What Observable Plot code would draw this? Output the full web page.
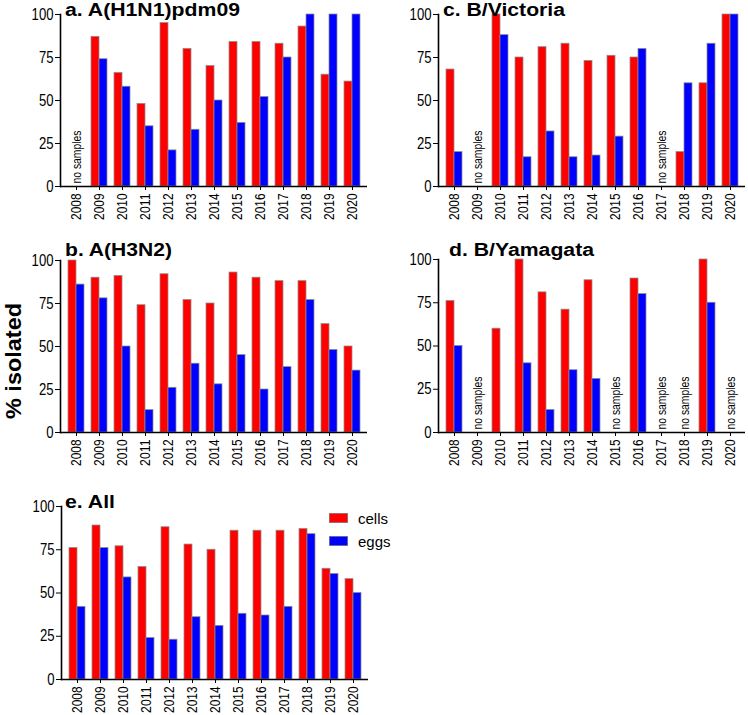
<!DOCTYPE html>
<html>
<head>
<meta charset="utf-8">
<script src="https://cdn.jsdelivr.net/npm/d3@7"></script>
<script src="https://cdn.jsdelivr.net/npm/@observablehq/plot@0.6"></script>
<style>
  body { margin: 0; background: #fff; }
  #root { position: relative; width: 748px; height: 715px; font-family: "Liberation Sans", Arial, sans-serif; color: #000; overflow: hidden; }
  .panel { position: absolute; }
  .lg { position: absolute; font-size: 15px; line-height: 1; white-space: nowrap; }
  .sw { position: absolute; width: 19px; height: 10px; box-shadow: inset 0 0 0 0.7px #8c8c8c; }
  #overlay { position: absolute; left: 0; top: 0; pointer-events: none; }
</style>
</head>
<body>
<div id="root"></div>
<script>
// ---- data ----
const years = [2008, 2009, 2010, 2011, 2012, 2013, 2014, 2015, 2016, 2017, 2018, 2019, 2020];
const yTicks = [0, 25, 50, 75, 100];
const seriesNames = ["cells", "eggs"];
const seriesColors = ["#ff0000", "#0000ff"];

const h1n1Cells = [null, 87, 66, 48, 95, 80, 70, 84, 84, 83, 93, 65, 61];
const h1n1Eggs  = [null, 74, 58, 35, 21, 33, 50, 37, 52, 75, 100, 100, 100];
const h1n1NoSamples = [2008];

const h3n2Cells = [100, 90, 91, 74, 92, 77, 75, 93, 90, 88, 88, 63, 50];
const h3n2Eggs  = [86, 78, 50, 13, 26, 40, 28, 45, 25, 38, 77, 48, 36];
const h3n2NoSamples = [];

const vicCells = [68, null, 100, 75, 81, 83, 73, 76, 75, null, 20, 60, 100];
const vicEggs  = [20, null, 88, 17, 32, 17, 18, 29, 80, null, 60, 83, 100];
const vicNoSamples = [2009, 2017];

const yamCells = [76, null, 60, 100, 81, 71, 88, null, 89, null, null, 100, null];
const yamEggs  = [50, null, null, 40, 13, 36, 31, null, 80, null, null, 75, null];
const yamNoSamples = [2009, 2015, 2017, 2018, 2020];

const allCells = [76, 89, 77, 65, 88, 78, 75, 86, 86, 86, 87, 64, 58];
const allEggs  = [42, 76, 59, 24, 23, 36, 31, 38, 37, 42, 84, 61, 50];
const allNoSamples = [];

const titles = ["a. A(H1N1)pdm09", "b. A(H3N2)", "c. B/Victoria", "d. B/Yamagata", "e. All"];
const yLabel = "% isolated";
const noSampleText = "no samples";

// ---- drawing ----
const root = document.getElementById("root");
const NARROW = 0.456; // digit advance of a narrow sans, per em

function condense(nodes, fontSize, perChar) {
  nodes.forEach(t => {
    const s = t.textContent;
    t.setAttribute("textLength", (s.length * perChar * fontSize).toFixed(2));
    t.setAttribute("lengthAdjust", "spacingAndGlyphs");
  });
}

function makePanel(cells, eggs, none, left, top, frameH) {
  const rows = years.map((year, i) => ({year, cells: cells[i], eggs: eggs[i]}));
  const chart = Plot.plot({
    width: 370,
    height: 10 + frameH + 40,
    marginLeft: 60,
    marginRight: 3,
    marginTop: 10,
    marginBottom: 40,
    style: {fontFamily: '"Liberation Sans", Arial, sans-serif', fontSize: "15px", color: "#000", background: "transparent", overflow: "visible"},
    x: {type: "band", domain: years, paddingInner: 0.32, paddingOuter: 0.18, label: null},
    y: {domain: [0, 100], label: null},
    marks: [
      Plot.barY(rows, {x: "year", y: seriesNames[0], fill: seriesColors[0], stroke: "#8c8c8c", strokeWidth: 0.75, insetRight: 8}),
      Plot.barY(rows, {x: "year", y: seriesNames[1], fill: seriesColors[1], stroke: "#8c8c8c", strokeWidth: 0.75, insetLeft: 8}),
      Plot.text(none, {x: d => d, frameAnchor: "bottom", rotate: -90, textAnchor: "start", lineAnchor: "middle", dy: -3, text: () => noSampleText, fontSize: 12.5, fill: "#000"}),
      Plot.axisY({ticks: yTicks, tickSize: 5, tickPadding: 2, fontSize: 16, label: null}),
      Plot.axisX({tickRotate: -90, tickSize: 4, tickPadding: 3, fontSize: 14.5, tickFormat: d => String(d), label: null}),
      Plot.ruleY([0], {strokeWidth: 1.6}),
      Plot.frame({anchor: "left", strokeWidth: 1.6})
    ]
  });
  condense(chart.querySelectorAll('g[aria-label="y-axis tick label"] text'), 16, NARROW);
  condense(chart.querySelectorAll('g[aria-label="x-axis tick label"] text'), 14.5, NARROW);
  condense(chart.querySelectorAll('g[aria-label="text"] text'), 12.5, 53 / (10 * 12.5));
  chart.classList.add("panel");
  chart.style.left = left + "px";
  chart.style.top = top + "px";
  root.appendChild(chart);
  return chart;
}

makePanel(h1n1Cells, h1n1Eggs, h1n1NoSamples, 0, 4, 172);
makePanel(h3n2Cells, h3n2Eggs, h3n2NoSamples, 0, 250, 172);
makePanel(vicCells, vicEggs, vicNoSamples, 378, 4, 172);
makePanel(yamCells, yamEggs, yamNoSamples, 378, 249, 173);
makePanel(allCells, allEggs, allNoSamples, 1, 496, 173);

// titles and shared y label
const NS = "http://www.w3.org/2000/svg";
const overlay = document.createElementNS(NS, "svg");
overlay.setAttribute("id", "overlay");
overlay.setAttribute("width", 748);
overlay.setAttribute("height", 715);
root.appendChild(overlay);
const titlePos = [[65, 16, 175], [65, 255.5, 107], [443, 16, 122], [449, 255.5, 145], [65, 507.5, 50]];
titles.forEach((txt, i) => {
  const [x, y, w] = titlePos[i];
  const t = document.createElementNS(NS, "text");
  t.setAttribute("x", x);
  t.setAttribute("y", y);
  t.setAttribute("font-family", '"Liberation Sans", Arial, sans-serif');
  t.setAttribute("font-weight", "bold");
  t.setAttribute("font-size", 17.5);
  t.setAttribute("textLength", w);
  t.setAttribute("lengthAdjust", "spacingAndGlyphs");
  t.textContent = txt;
  overlay.appendChild(t);
});

const yl = document.createElementNS(NS, "text");
yl.setAttribute("transform", "translate(20.5,361) rotate(-90)");
yl.setAttribute("text-anchor", "middle");
yl.setAttribute("font-family", '"Liberation Sans", Arial, sans-serif');
yl.setAttribute("font-weight", "bold");
yl.setAttribute("font-size", 22.5);
yl.setAttribute("textLength", 116);
yl.setAttribute("lengthAdjust", "spacingAndGlyphs");
yl.textContent = yLabel;
overlay.appendChild(yl);

// legend
seriesNames.forEach((name, i) => {
  const sw = document.createElement("div");
  sw.className = "sw";
  sw.style.background = seriesColors[i];
  sw.style.left = "329px";
  sw.style.top = (513 + i * 23) + "px";
  root.appendChild(sw);
  const t = document.createElement("div");
  t.className = "lg";
  t.textContent = name;
  t.style.left = "358px";
  t.style.top = (511 + i * 23) + "px";
  root.appendChild(t);
});
</script>
</body>
</html>
